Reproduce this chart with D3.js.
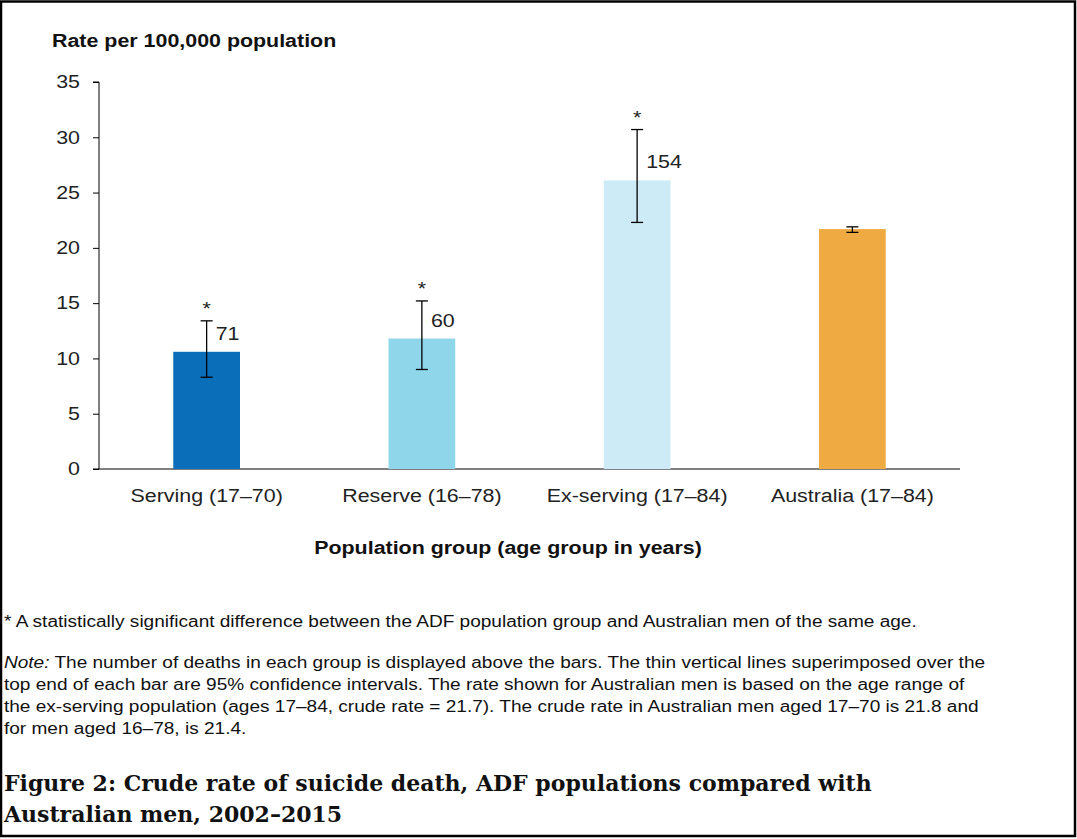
<!DOCTYPE html>
<html><head><meta charset="utf-8">
<script src="https://cdn.jsdelivr.net/npm/d3@7/dist/d3.min.js"></script>
<style>body{margin:0;background:#fff}svg{display:block}</style>
</head><body><svg id="c" width="1077" height="839"></svg>
<script>
const categories = ["Serving (17–70)", "Reserve (16–78)", "Ex-serving (17–84)", "Australia (17–84)"];
const rates = [10.6, 11.8, 26.1, 21.7];
const ciLow = [8.3, 9.0, 22.3, 21.4];
const ciHigh = [13.4, 15.2, 30.7, 21.9];
const deaths = ["71", "60", "154", ""];
const significant = [true, true, true, false];
const colors = ["#0A6EB8", "#8FD6EA", "#CDEBF7", "#F0AA42"];
const yTicks = [0, 5, 10, 15, 20, 25, 30, 35];

const svg = d3.select("#c");
const font = "'Liberation Sans', Arial, sans-serif";
const SX = 1.19;
svg.append("rect").attr("x",1).attr("y",1.5).attr("width",1074).attr("height",834.5)
  .attr("fill","#fff").attr("stroke","#000").attr("stroke-width",2.5);

function txt(parent, x, y, s, size, opts = {}) {
  const t = parent.append("text").attr("transform", `translate(${x},${y}) scale(${SX},1)`)
    .attr("font-family", font).attr("font-size", size).attr("fill", opts.fill || "#1a1a1a")
    .attr("text-anchor", opts.anchor || "start");
  if (opts.bold) t.attr("font-weight", "bold");
  if (s !== null) t.text(s);
  return t;
}

const m = {left: 99, right: 960, top: 82, bottom: 469};
const x = d3.scaleBand().domain(categories).range([m.left, m.right]).paddingInner(0.69).paddingOuter(0.345);
const y = d3.scaleLinear().domain([0, 35]).range([m.bottom, m.top]);

const yAxis = svg.append("g").attr("transform", `translate(${m.left},0)`)
  .call(d3.axisLeft(y).tickValues(yTicks).tickSize(6).tickPadding(10));
yAxis.select(".domain").attr("stroke","#000").attr("d", `M-6,${m.top}H0V${m.bottom}`);
yAxis.selectAll(".tick line").attr("stroke","#000");
yAxis.selectAll("text").attr("font-family",font).attr("font-size",18).attr("fill","#222")
  .attr("transform", `scale(${SX},1)`);

const xAxis = svg.append("g").attr("transform", `translate(0,${m.bottom})`)
  .call(d3.axisBottom(x).tickSize(0).tickPadding(20));
xAxis.select(".domain").attr("stroke","#000").attr("d", `M${m.left-6},0H${m.right}`);
xAxis.selectAll("text").attr("font-family",font).attr("font-size",18).attr("fill","#222")
  .attr("transform", `scale(${SX},1)`);

const idx = d3.range(categories.length);
svg.append("g").selectAll("rect").data(idx).join("rect")
  .attr("x", i => x(categories[i])).attr("width", x.bandwidth())
  .attr("y", i => y(rates[i])).attr("height", i => y(0) - y(rates[i]))
  .attr("fill", i => colors[i]);

const cx = i => x(categories[i]) + x.bandwidth()/2;
const eb = svg.append("g").attr("stroke","#000").attr("stroke-width",1.3);
idx.forEach(i => {
  eb.append("line").attr("x1",cx(i)).attr("x2",cx(i)).attr("y1",y(ciLow[i])).attr("y2",y(ciHigh[i]));
  eb.append("line").attr("x1",cx(i)-6).attr("x2",cx(i)+6).attr("y1",y(ciLow[i])).attr("y2",y(ciLow[i]));
  eb.append("line").attr("x1",cx(i)-6).attr("x2",cx(i)+6).attr("y1",y(ciHigh[i])).attr("y2",y(ciHigh[i]));
});

const lbl = svg.append("g");
idx.filter(i => deaths[i]).forEach(i => txt(lbl, cx(i) + 9, y(rates[i]) - 12, deaths[i], 18, {fill:"#222"}));
idx.filter(i => significant[i]).forEach(i => txt(lbl, cx(i), y(ciHigh[i]) - 6, "*", 18, {anchor:"middle", fill:"#222"}));

txt(svg, 52, 47, "Rate per 100,000 population", 18, {bold:true, fill:"#111"});
txt(svg, 508, 554, "Population group (age group in years)", 18, {bold:true, fill:"#111", anchor:"middle"});

const notes = svg.append("g");
txt(notes, 4, 627, "* A statistically significant difference between the ADF population group and Australian men of the same age.", 16, {fill:"#111"});
const noteLines = [
  null,
  "top end of each bar are 95% confidence intervals. The rate shown for Australian men is based on the age range of",
  "the ex-serving population (ages 17–84, crude rate = 21.7). The crude rate in Australian men aged 17–70 is 21.8 and",
  "for men aged 16–78, is 21.4."
];
const t0 = txt(notes, 4, 668, null, 16, {fill:"#111"});
t0.append("tspan").attr("font-style","italic").text("Note:");
t0.append("tspan").text(" The number of deaths in each group is displayed above the bars. The thin vertical lines superimposed over the");
noteLines.forEach((l,k) => { if (l) txt(notes, 4, 668 + 22*k, l, 16, {fill:"#111"}); });

const title = svg.append("g").attr("font-family","'DejaVu Serif', 'Liberation Serif', serif").attr("font-size",22)
  .attr("font-weight","bold").attr("fill","#111");
title.append("text").attr("x",4).attr("y",791).text("Figure 2: Crude rate of suicide death, ADF populations compared with");
title.append("text").attr("x",4).attr("y",822).text("Australian men, 2002–2015");
</script></body></html>
